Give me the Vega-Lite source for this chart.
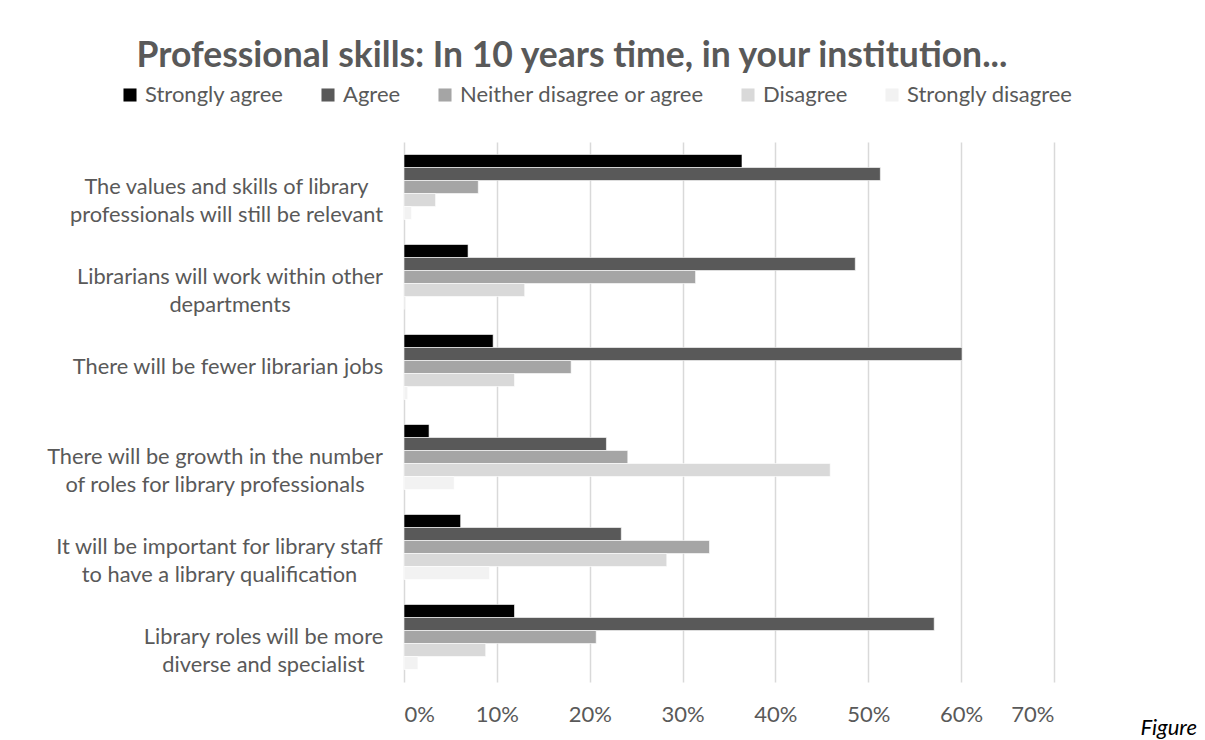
{
  "$schema": "https://vega.github.io/schema/vega-lite/v6.json",
  "width": 650,
  "height": 540,
  "autosize": {"type": "none"},
  "padding": {"left": 404, "top": 142, "right": 151, "bottom": 58},
  "background": "white",
  "title": {
    "text": "Professional skills: In 10 years time, in your institution...",
    "font": "Lato",
    "fontSize": 35.5,
    "fontWeight": "bold",
    "color": "#595959",
    "anchor": "middle",
    "frame": "group",
    "dx": -157,
    "offset": 10
  },
  "data": {
    "values": [
      {"statement": "The values and skills of library\nprofessionals will still be relevant", "response": "Strongly agree", "share": 0.364},
      {"statement": "The values and skills of library\nprofessionals will still be relevant", "response": "Agree", "share": 0.513},
      {"statement": "The values and skills of library\nprofessionals will still be relevant", "response": "Neither disagree or agree", "share": 0.080},
      {"statement": "The values and skills of library\nprofessionals will still be relevant", "response": "Disagree", "share": 0.034},
      {"statement": "The values and skills of library\nprofessionals will still be relevant", "response": "Strongly disagree", "share": 0.008},
      {"statement": "Librarians will work within other\ndepartments", "response": "Strongly agree", "share": 0.069},
      {"statement": "Librarians will work within other\ndepartments", "response": "Agree", "share": 0.486},
      {"statement": "Librarians will work within other\ndepartments", "response": "Neither disagree or agree", "share": 0.314},
      {"statement": "Librarians will work within other\ndepartments", "response": "Disagree", "share": 0.130},
      {"statement": "Librarians will work within other\ndepartments", "response": "Strongly disagree", "share": 0.0},
      {"statement": "There will be fewer librarian jobs", "response": "Strongly agree", "share": 0.096},
      {"statement": "There will be fewer librarian jobs", "response": "Agree", "share": 0.601},
      {"statement": "There will be fewer librarian jobs", "response": "Neither disagree or agree", "share": 0.180},
      {"statement": "There will be fewer librarian jobs", "response": "Disagree", "share": 0.119},
      {"statement": "There will be fewer librarian jobs", "response": "Strongly disagree", "share": 0.004},
      {"statement": "There will be growth in the number\nof roles for library professionals", "response": "Strongly agree", "share": 0.027},
      {"statement": "There will be growth in the number\nof roles for library professionals", "response": "Agree", "share": 0.218},
      {"statement": "There will be growth in the number\nof roles for library professionals", "response": "Neither disagree or agree", "share": 0.241},
      {"statement": "There will be growth in the number\nof roles for library professionals", "response": "Disagree", "share": 0.459},
      {"statement": "There will be growth in the number\nof roles for library professionals", "response": "Strongly disagree", "share": 0.054},
      {"statement": "It will be important for library staff\nto have a library qualification", "response": "Strongly agree", "share": 0.061},
      {"statement": "It will be important for library staff\nto have a library qualification", "response": "Agree", "share": 0.234},
      {"statement": "It will be important for library staff\nto have a library qualification", "response": "Neither disagree or agree", "share": 0.329},
      {"statement": "It will be important for library staff\nto have a library qualification", "response": "Disagree", "share": 0.283},
      {"statement": "It will be important for library staff\nto have a library qualification", "response": "Strongly disagree", "share": 0.092},
      {"statement": "Library roles will be more\ndiverse and specialist", "response": "Strongly agree", "share": 0.119},
      {"statement": "Library roles will be more\ndiverse and specialist", "response": "Agree", "share": 0.571},
      {"statement": "Library roles will be more\ndiverse and specialist", "response": "Neither disagree or agree", "share": 0.207},
      {"statement": "Library roles will be more\ndiverse and specialist", "response": "Disagree", "share": 0.088},
      {"statement": "Library roles will be more\ndiverse and specialist", "response": "Strongly disagree", "share": 0.015}
    ]
  },
  "mark": {"type": "bar", "stroke": "white", "strokeWidth": 0.6},
  "encoding": {
    "y": {
      "field": "statement",
      "type": "nominal",
      "sort": null,
      "scale": {"paddingInner": 0.278, "paddingOuter": 0.139},
      "axis": {
        "title": null,
        "domain": false,
        "ticks": false,
        "labelExpr": "split(datum.label, '\\n')",
        "labelFont": "Lato",
        "labelFontSize": 21.8,
        "labelColor": "#595959",
        "labelLineHeight": 28,
        "labelAlign": "center",
        "labelPadding": {
          "condition": [
            {"test": "indexof(datum.value, 'values') >= 0", "value": 178},
            {"test": "indexof(datum.value, 'Librarians') >= 0", "value": 174.5},
            {"test": "indexof(datum.value, 'fewer') >= 0", "value": 176.5},
            {"test": "indexof(datum.value, 'growth') >= 0", "value": 189.5},
            {"test": "indexof(datum.value, 'important') >= 0", "value": 185}
          ],
          "value": 141
        },
        "labelLimit": 0
      }
    },
    "yOffset": {
      "field": "response",
      "type": "nominal",
      "sort": ["Strongly agree", "Agree", "Neither disagree or agree", "Disagree", "Strongly disagree"]
    },
    "x": {
      "field": "share",
      "type": "quantitative",
      "scale": {"domain": [0, 0.7], "nice": false},
      "axis": {
        "values": [0, 0.1, 0.2, 0.3, 0.4, 0.5, 0.6, 0.7],
        "format": "%",
        "domain": false,
        "ticks": false,
        "grid": true,
        "gridColor": "#d9d9d9",
        "gridWidth": 1.5,
        "labelFont": "Lato",
        "labelFontSize": 22,
        "labelColor": "#595959",
        "labelPadding": 32,
        "labelBaseline": "middle",
        "title": "Figure",
        "titleFont": "Lato",
        "titleFontSize": 22,
        "titleFontStyle": "italic",
        "titleFontWeight": "normal",
        "titleColor": "#000000",
        "titleAlign": "left",
        "titleBaseline": "alphabetic",
        "titleX": 736,
        "titleY": 52
      }
    },
    "color": {
      "field": "response",
      "type": "nominal",
      "sort": ["Strongly agree", "Agree", "Neither disagree or agree", "Disagree", "Strongly disagree"],
      "scale": {
        "domain": ["Strongly agree", "Agree", "Neither disagree or agree", "Disagree", "Strongly disagree"],
        "range": ["#000000", "#595959", "#a5a5a5", "#d9d9d9", "#f2f2f2"]
      },
      "legend": {
        "title": null,
        "orient": "none",
        "direction": "horizontal",
        "legendX": -285,
        "legendY": -58,
        "symbolType": "square",
        "symbolSize": 170,
        "symbolStrokeWidth": 0,
        "labelFont": "Lato",
        "labelFontSize": 22,
        "labelColor": "#595959",
        "labelOffset": 4,
        "columnPadding": 33,
        "labelLimit": 0
      }
    }
  },
  "config": {"view": {"stroke": null}}
}
